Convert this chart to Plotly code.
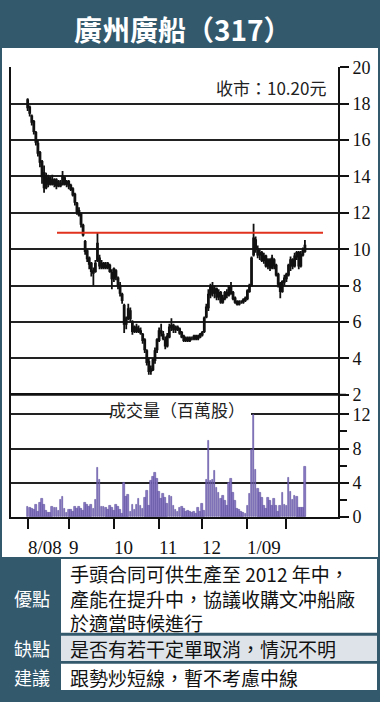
import plotly.graph_objects as go

W, H = 380, 702

# ---------------- data ----------------
day_index = list(range(136))  # trading days from 1 Aug 2008

open_ = [18.2, 17.8, 17.3, 17.0, 16.4, 15.8, 15.3, 14.8, 14.2, 13.4,
         13.9, 13.6, 13.8, 13.6, 13.8, 13.5, 13.6, 13.6, 13.9, 13.6,
         13.7, 13.5, 13.3, 13.0, 12.5, 12.1, 11.9, 11.3, 10.4, 9.9,
         9.5, 9.2, 8.8, 8.8, 9.4, 9.5, 9.2, 9.0, 9.1, 9.0,
         9.1, 8.7, 8.4, 8.8, 8.4, 8.0, 7.5, 6.9, 5.9, 6.2,
         6.6, 6.0, 5.5, 5.7, 5.5, 5.5, 5.3, 5.0, 4.4, 3.8,
         3.3, 3.4, 3.9, 4.5, 5.0, 5.5, 5.3, 5.0, 4.7, 5.2,
         5.7, 5.8, 5.6, 5.7, 5.6, 5.4, 5.2, 5.0, 5.1, 5.0,
         5.1, 5.1, 5.2, 5.1, 5.2, 5.3, 5.5, 6.3, 6.8, 7.5,
         7.9, 7.6, 7.8, 7.4, 7.6, 7.1, 7.3, 7.6, 7.5, 7.9,
         7.6, 7.3, 7.1, 7.0, 7.1, 7.1, 7.2, 7.3, 7.7, 8.0,
         9.7, 10.5, 10.0, 9.7, 9.8, 9.4, 9.6, 9.1, 9.4, 9.0,
         9.4, 9.1, 8.6, 8.1, 7.7, 8.2, 8.4, 8.6, 9.1, 9.4,
         9.1, 9.6, 9.8, 9.1, 9.7, 9.9]
high = [18.3, 17.9, 17.4, 17.1, 16.5, 16.0, 15.4, 14.9, 14.6, 14.2,
        14.1, 14.0, 14.1, 13.9, 13.9, 13.8, 13.8, 14.3, 14.0, 13.8,
        13.8, 13.6, 13.4, 13.1, 12.6, 12.3, 12.0, 11.4, 10.5, 10.0,
        9.6, 9.3, 9.0, 9.4, 10.9, 9.7, 9.4, 9.3, 9.3, 9.3,
        9.2, 8.9, 9.0, 8.9, 8.5, 8.2, 7.6, 7.0, 6.3, 7.0,
        6.8, 6.1, 5.8, 5.9, 5.8, 5.7, 5.4, 5.1, 4.5, 4.0,
        3.6, 4.0, 4.6, 5.1, 5.7, 5.9, 5.5, 5.2, 5.4, 5.9,
        6.2, 5.9, 5.8, 5.8, 5.7, 5.5, 5.3, 5.2, 5.2, 5.2,
        5.2, 5.3, 5.3, 5.3, 5.4, 5.5, 6.3, 7.0, 7.8, 8.1,
        8.2, 8.0, 7.9, 7.8, 7.7, 7.5, 7.7, 7.8, 8.0, 8.2,
        7.7, 7.4, 7.2, 7.2, 7.2, 7.3, 7.4, 7.8, 8.1, 9.6,
        11.4, 10.7, 10.2, 10.0, 9.9, 9.8, 9.7, 9.5, 9.5, 9.7,
        9.5, 9.2, 8.7, 8.2, 8.3, 8.6, 8.7, 9.2, 9.6, 9.5,
        9.8, 9.9, 9.9, 9.9, 10.1, 10.5]
low = [17.6, 17.3, 16.8, 16.3, 15.7, 15.1, 14.5, 13.6, 13.1, 13.3,
       13.4, 13.5, 13.5, 13.4, 13.3, 13.4, 13.4, 13.5, 13.5, 13.4,
       13.3, 13.2, 12.9, 12.4, 11.9, 11.8, 11.2, 10.7, 9.7, 9.3,
       8.9, 8.5, 8.0, 8.7, 9.3, 8.9, 8.9, 8.9, 8.9, 8.9,
       8.7, 7.8, 8.2, 8.3, 7.8, 7.4, 7.0, 5.4, 5.6, 6.1,
       6.0, 5.3, 5.4, 5.4, 5.4, 5.3, 4.8, 4.3, 3.6, 3.1,
       3.1, 3.3, 3.7, 4.3, 4.9, 5.2, 5.0, 4.5, 4.6, 5.1,
       5.5, 5.4, 5.4, 5.5, 5.3, 5.1, 4.9, 4.9, 4.9, 4.9,
       5.0, 5.0, 5.0, 5.0, 5.1, 5.2, 5.4, 6.2, 6.6, 7.3,
       7.4, 7.3, 7.2, 7.2, 7.0, 7.0, 7.2, 7.3, 7.4, 7.5,
       7.2, 7.0, 6.9, 6.9, 7.0, 7.0, 7.1, 7.2, 7.6, 8.0,
       9.6, 9.8, 9.5, 9.4, 9.3, 9.2, 9.0, 8.9, 8.8, 8.9,
       8.9, 8.5, 7.9, 7.3, 7.6, 8.0, 8.2, 8.5, 8.8, 8.9,
       9.0, 9.4, 8.9, 9.0, 9.6, 9.8]
close = [17.8, 17.5, 17.0, 16.5, 15.9, 15.3, 14.8, 14.0, 13.4, 14.0,
         13.6, 13.9, 13.6, 13.8, 13.5, 13.7, 13.5, 14.0, 13.6, 13.7,
         13.5, 13.3, 13.0, 12.6, 12.1, 11.9, 11.4, 10.8, 9.9, 9.5,
         9.2, 8.8, 8.7, 9.2, 10.3, 9.1, 9.0, 9.2, 9.0, 9.2,
         8.8, 8.4, 8.9, 8.5, 8.0, 7.6, 7.2, 5.9, 6.2, 6.7,
         6.2, 5.5, 5.7, 5.5, 5.6, 5.4, 5.0, 4.5, 3.8, 3.3,
         3.4, 3.9, 4.4, 5.0, 5.5, 5.4, 5.1, 4.7, 5.2, 5.7,
         5.8, 5.6, 5.7, 5.6, 5.4, 5.2, 5.0, 5.1, 5.0, 5.1,
         5.1, 5.2, 5.1, 5.2, 5.3, 5.4, 6.2, 6.8, 7.5, 7.9,
         7.6, 7.8, 7.4, 7.6, 7.1, 7.3, 7.6, 7.5, 7.9, 7.6,
         7.3, 7.1, 7.0, 7.1, 7.1, 7.2, 7.3, 7.7, 8.0, 9.5,
         10.6, 10.0, 9.7, 9.8, 9.4, 9.6, 9.1, 9.4, 9.0, 9.5,
         9.1, 8.6, 8.1, 7.7, 8.2, 8.4, 8.6, 9.1, 9.4, 9.1,
         9.6, 9.8, 9.1, 9.7, 9.9, 10.2]
volume = [1.2, 1.1, 1.0, 0.9, 1.5, 0.6, 1.7, 2.1, 1.5, 0.8,
          0.5, 0.5, 1.2, 1.1, 1.1, 0.7, 2.0, 2.4, 1.0, 0.5,
          0.9, 0.9, 0.6, 1.2, 1.0, 1.2, 1.0, 0.8, 1.7, 1.5,
          1.2, 1.5, 1.0, 2.0, 5.8, 4.4, 1.2, 1.2, 1.1, 0.9,
          1.3, 1.1, 0.7, 1.5, 1.2, 0.9, 0.4, 4.0, 2.4, 2.6,
          0.6, 1.5, 0.9, 1.5, 2.1, 1.3, 1.0, 2.3, 3.1, 1.3,
          4.2, 4.7, 5.2, 4.5, 3.0, 2.1, 2.7, 2.3, 1.6, 2.5,
          2.4, 1.3, 0.9, 0.6, 1.1, 1.2, 1.0, 0.6, 0.7, 0.6,
          0.5, 0.6, 0.4, 1.1, 0.6, 1.6, 0.7, 4.4, 8.9, 4.2,
          4.4, 5.4, 3.4, 2.9, 2.1, 2.5, 1.9, 1.3, 4.0, 4.5,
          2.9, 1.9, 1.0, 0.9, 0.6, 0.5, 0.4, 1.3, 2.7, 7.9,
          11.9, 5.5, 3.3, 2.9, 2.3, 1.3, 1.0, 2.3, 1.9, 1.3,
          2.1, 1.3, 0.6, 1.3, 2.9, 1.5, 1.3, 4.6, 3.0, 2.0,
          2.5, 2.4, 1.1, 1.1, 1.1, 5.9]

month_start_idx = [0, 20, 42, 64, 85, 107, 126]
month_labels = ["8/08", "9", "10", "11", "12", "1/09", ""]
price_ticks = [2, 4, 6, 8, 10, 12, 14, 16, 18, 20]
vol_ticks = [0, 4, 8, 12]
vol_minor_ticks = [2, 6, 10]
resistance_level = 10.9
resistance_span = (14.3, 143.8)

title_text = "廣州廣船（317）"
close_text = "收市：10.20元"
volume_title = "成交量（百萬股）"
table_rows = [
    ("優點", ["手頭合同可供生產至 2012 年中，",
              "產能在提升中，協議收購文冲船廠",
              "於適當時候進行"]),
    ("缺點", ["是否有若干定單取消，情況不明"]),
    ("建議", ["跟勢炒短線，暫不考慮中線"]),
]

# ---------------- layout helpers ----------------
def py(v):  # pixel y -> paper
    return 1 - v / H

def px(v):
    return v / W

BG = "#33596d"
CJK = "Noto Sans CJK TC"
SERIF = "Liberation Serif"

X_RANGE = [-8.1, 151.1]
XDOM = [px(11), px(338)]

fig = go.Figure()

fig.add_trace(go.Candlestick(
    x=day_index, open=open_, high=high, low=low, close=close,
    increasing=dict(line=dict(color="#111", width=1.8), fillcolor="#111"),
    decreasing=dict(line=dict(color="#111", width=1.8), fillcolor="#111"),
    whiskerwidth=0, xaxis="x", yaxis="y", showlegend=False, hoverinfo="skip"))

fig.add_trace(go.Bar(
    x=day_index, y=volume, xaxis="x2", yaxis="y2", width=0.8,
    marker=dict(color="#8a7cc4", line=dict(color="#5b4b9c", width=0.6)),
    showlegend=False, hoverinfo="skip"))

shapes = []
# white chart panel
shapes.append(dict(type="rect", xref="paper", yref="paper", x0=px(2), x1=px(378),
                   y0=py(563), y1=py(39), fillcolor="white", line=dict(width=0), layer="below"))
# table cells
cell_bounds = [(565, 641, "white"), (644, 670, "#dde3e8"), (673, 700, "white")]
for top, bot, col in cell_bounds:
    shapes.append(dict(type="rect", xref="paper", yref="paper", x0=px(61), x1=px(377),
                       y0=py(bot), y1=py(top), fillcolor=col, line=dict(width=0), layer="below"))
# resistance line
shapes.append(dict(type="line", xref="x", yref="y", x0=resistance_span[0], x1=resistance_span[1],
                   y0=resistance_level, y1=resistance_level, line=dict(color="#e0321e", width=2)))
# divider between price and volume panels (price level 2 gridline)
shapes.append(dict(type="line", xref="paper", yref="paper", x0=px(11), x1=px(346),
                   y0=py(396), y1=py(396), line=dict(color="#111", width=2), layer="above"))
# gap in 12 gridline behind the volume title
shapes.append(dict(type="rect", xref="paper", yref="paper", x0=px(112), x1=px(251),
                   y0=py(422), y1=py(409), fillcolor="white", line=dict(width=0), layer="above"))

annotations = []
annotations.append(dict(text=f"<b>{title_text}</b>", x=px(183), y=py(20), xref="paper", yref="paper",
                        showarrow=False, xanchor="center", yanchor="middle",
                        font=dict(family=CJK, size=28, color="white")))
annotations.append(dict(text=close_text, x=px(328), y=py(80), xref="paper", yref="paper",
                        showarrow=False, xanchor="right", yanchor="middle",
                        font=dict(family=CJK, size=17, color="#222")))
annotations.append(dict(text=volume_title, x=px(177), y=py(411), xref="paper", yref="paper",
                        showarrow=False, xanchor="center", yanchor="middle",
                        font=dict(family=CJK, size=17, color="#222")))
for i, lab in zip(month_start_idx, month_labels):
    if lab:
        annotations.append(dict(text=lab, x=i, y=py(553), xref="x2", yref="paper",
                                showarrow=False, xanchor="left", yanchor="middle", xshift=-2,
                                font=dict(family=SERIF, size=19, color="#111")))
label_y = [605, 657, 687]
text_y = [605, 657, 687]
for (lab, lines), ly, ty in zip(table_rows, label_y, text_y):
    annotations.append(dict(text=lab, x=px(32), y=py(ly), xref="paper", yref="paper",
                            showarrow=False, xanchor="center", yanchor="middle",
                            font=dict(family=CJK, size=18, color="white")))
    annotations.append(dict(text="<br>".join(lines), x=px(68), y=py(ty), xref="paper", yref="paper",
                            showarrow=False, xanchor="left", yanchor="middle", align="left",
                            font=dict(family=CJK, size=19, color="#111")))

axis_common = dict(showline=True, mirror=True, linecolor="#111", linewidth=2, zeroline=False)

fig.update_layout(
    width=W, height=H, margin=dict(l=0, r=0, t=0, b=0),
    paper_bgcolor=BG, plot_bgcolor="white",
    showlegend=False, bargap=0,
    xaxis=dict(domain=XDOM, range=X_RANGE, anchor="y", showticklabels=False, showgrid=False,
               ticks="", rangeslider=dict(visible=False), showline=False, zeroline=False),
    yaxis=dict(domain=[py(396), py(59)], range=[2, 20], side="right", anchor="x",
               tickvals=price_ticks, ticks="outside", ticklen=9, tickwidth=2, tickcolor="#111",
               showgrid=True, gridcolor="#222", gridwidth=1.5,
               tickfont=dict(family=SERIF, size=18, color="#111"), **axis_common),
    xaxis2=dict(domain=XDOM, range=X_RANGE, anchor="y2", showticklabels=False, showgrid=False,
                tickvals=month_start_idx, ticks="outside", ticklen=10, tickwidth=2, tickcolor="#111",
                **axis_common),
    yaxis2=dict(domain=[py(522), py(396)], range=[0, 14.27], side="right", anchor="x2",
                tickvals=vol_ticks, ticks="outside", ticklen=9, tickwidth=2, tickcolor="#111",
                minor=dict(tickvals=vol_minor_ticks, ticks="outside", ticklen=7, tickwidth=2,
                           tickcolor="#111", showgrid=False),
                showgrid=True, gridcolor="#222", gridwidth=1.5,
                tickfont=dict(family=SERIF, size=18, color="#111"), **axis_common),
    shapes=shapes, annotations=annotations,
)

fig.write_html("out.html")
